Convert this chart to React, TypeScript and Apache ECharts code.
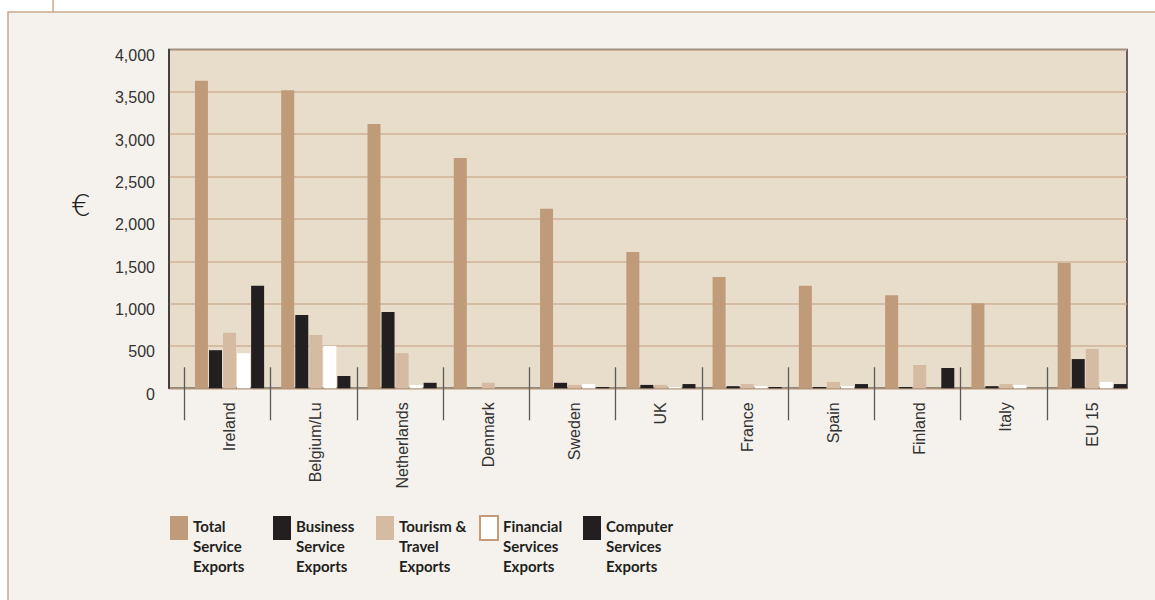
import React, { useEffect, useRef } from "react";
import * as echarts from "echarts";

const CATEGORIES = ["Ireland", "Belgium/Lu", "Netherlands", "Denmark", "Sweden", "UK", "France", "Spain", "Finland", "Italy", "EU 15"];
const TOTAL = [3630, 3520, 3120, 2720, 2120, 1610, 1315, 1210, 1100, 1005, 1480];
const BUSINESS = [450, 865, 900, 0, 65, 40, 25, 15, 15, 25, 345];
const TOURISM = [655, 630, 415, 65, 40, 40, 50, 75, 275, 50, 465];
const FINANCIAL = [415, 500, 40, 0, 50, 15, 25, 25, 0, 40, 75];
const COMPUTER = [1210, 145, 65, 0, 15, 50, 15, 50, 240, 0, 50];
const SERIES_NAMES = [
  "Total\nService\nExports",
  "Business\nService\nExports",
  "Tourism &\nTravel\nExports",
  "Financial\nServices\nExports",
  "Computer\nServices\nExports",
];
const Y_MIN = 0;
const Y_MAX = 4000;
const Y_STEP = 500;

const FONT = "'Liberation Sans', Arial, sans-serif";
const LEGEND_FONT = "Lato, 'Liberation Sans', sans-serif";
// legend icon: an 18x24 square sitting at the top of a 18x60 item box
const LEGEND_ICON = "path://M0,0L18,0L18,24L0,24Z M0,60";

export default function App() {
  const ref = useRef<HTMLDivElement>(null);
  useEffect(() => {
    if (!ref.current) return;
    const chart = echarts.init(ref.current, null, { renderer: "svg" });
    const colors = ["#c09b79", "#231f20", "#d5bba2", "#ffffff", "#231f20"];
    const values = [TOTAL, BUSINESS, TOURISM, FINANCIAL, COMPUTER];
    const top = 49.5;
    const bottom = 600 - 388.3;
    const shift = 2.4;
    const option: any = {
      animation: false,
      backgroundColor: "#ffffff",
      graphic: [
        {
          type: "rect",
          z: -100,
          shape: { x: 8, y: 12, width: 1200, height: 700 },
          style: { fill: "#f5f2ed", stroke: "#c8a88a", lineWidth: 1.5 },
        },
        {
          type: "line",
          z: -100,
          shape: { x1: 53, y1: 0, x2: 53, y2: 12 },
          style: { stroke: "#c8a88a", lineWidth: 1.5 },
        },
        {
          type: "text",
          left: 71,
          top: 189,
          style: { text: "€", fontSize: 31, fontFamily: "'DejaVu Sans', sans-serif", fontWeight: 200, fill: "#231f20" },
        },
      ],
      grid: [
        {
          left: 169,
          right: 28,
          top,
          bottom,
          show: true,
          backgroundColor: "#e8dccb",
          borderColor: "#3a3433",
          borderWidth: 1.5,
          z: 0,
        },
        { left: 184 + shift, right: 22 - shift, top, bottom },
      ],
      xAxis: [
        { type: "value", gridIndex: 0, min: 0, max: 1, show: false },
        {
          type: "category",
          gridIndex: 1,
          data: CATEGORIES,
          axisLine: { show: false },
          axisTick: { show: false },
          axisLabel: {
            interval: 0,
            rotate: 90,
            margin: 14,
            fontSize: 16,
            fontFamily: FONT,
            color: "#333",
          },
        },
      ],
      yAxis: [
        {
          type: "value",
          gridIndex: 0,
          min: Y_MIN,
          max: Y_MAX,
          interval: Y_STEP,
          axisLine: { show: true, lineStyle: { color: "#3a3433", width: 1.5 } },
          axisTick: { show: false },
          splitLine: { show: true, lineStyle: { color: "#cfb296", width: 1.5 } },
          axisLabel: {
            margin: 14,
            fontSize: 16,
            fontFamily: FONT,
            color: "#333",
            verticalAlign: "top",
            lineHeight: 12,
            formatter: (v: number) => v.toLocaleString("en-US"),
          },
        },
        { type: "value", gridIndex: 1, min: Y_MIN, max: Y_MAX, show: false },
      ],
      legend: {
        left: 170,
        top: 515,
        padding: 0,
        itemWidth: 18,
        itemHeight: 60,
        itemGap: 0,
        icon: LEGEND_ICON,
        selectedMode: false,
        textStyle: {
          fontFamily: LEGEND_FONT,
          fontWeight: "bold",
          fontSize: 15,
          lineHeight: 20,
          color: "#231f20",
          width: 80,
        },
        data: SERIES_NAMES.map((n, i) =>
          i === 3
            ? { name: n, itemStyle: { color: "#ffffff", borderColor: "#c49c78", borderWidth: 2 } }
            : { name: n }
        ),
      },
      series: [
        ...SERIES_NAMES.map((n, i) => ({
          name: n,
          type: "bar",
          xAxisIndex: 1,
          yAxisIndex: 1,
          data: values[i],
          barWidth: 13,
          barGap: "8%",
          itemStyle: { color: colors[i] },
          z: 3,
        })),
        {
          type: "custom",
          name: "ticks",
          xAxisIndex: 1,
          yAxisIndex: 1,
          silent: true,
          clip: false,
          z: 4,
          data: CATEGORIES.map((c) => [c, 0]),
          renderItem: (params: any, api: any) => {
            const p = api.coord([api.value(0), 0]);
            const bw = api.size([1, 0])[0];
            const x = Math.round(p[0] - bw / 2 - shift) + 0.5;
            return {
              type: "line",
              shape: { x1: x, y1: p[1] - 21, x2: x, y2: p[1] + 32 },
              style: { stroke: "#5a5a5a", lineWidth: 1.3 },
            };
          },
        },
      ],
    };
    chart.setOption(option);
    return () => chart.dispose();
  }, []);
  return (
    <div
      ref={ref}
      style={{ position: "fixed", left: 0, top: 0, width: 1155, height: 600 }}
    />
  );
}
